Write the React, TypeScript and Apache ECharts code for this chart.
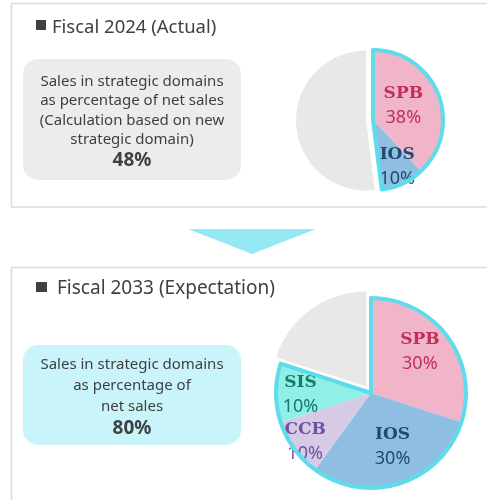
import React, { useEffect, useRef } from "react";
import * as echarts from "echarts";

// ---- data ----
const titles = ["Fiscal 2024 (Actual)", "Fiscal 2033 (Expectation)"];
const box1Lines = ["Sales in strategic domains", "as percentage of net sales", "(Calculation based on new", "strategic domain)"];
const box1Value = "48%";
const box2Lines = ["Sales in strategic domains", "as percentage of", "net sales"];
const box2Value = "80%";

const pie1Names = ["SPB", "IOS", "Other"];
const pie1Values = [38, 10, 52];
const pie2Names = ["SPB", "IOS", "CCB", "SIS", "Other"];
const pie2Values = [30, 30, 10, 10, 20];
const strategic1 = [48, 52];
const strategic2 = [80, 20];

const segColors: Record<string, string> = {
  SPB: "#f0b5c8",
  IOS: "#8ebfe3",
  CCB: "#d5cbe4",
  SIS: "#90efe7",
  Other: "#e8e8e8",
};
const labelColors: Record<string, string> = {
  SPB: "#c22f5c",
  IOS: "#1f4a6e",
  CCB: "#7150a6",
  SIS: "#167a6a",
};

const CYAN = "#5fdcea";
const SANS = "'Noto Sans', 'Open Sans', sans-serif";
const SERIF = "'DejaVu Serif', 'Liberation Serif', serif";

function pieData(names: string[], values: number[]) {
  return names.map((n, i) => {
    const isOther = n === "Other";
    return {
      name: n,
      value: values[i],
      selected: isOther,
      itemStyle: { color: segColors[n], borderWidth: 0 },
      label: isOther
        ? { show: false }
        : {
            show: true,
            rich: {
              n: { fontFamily: SERIF, fontWeight: "bold", fontSize: 17, color: labelColors[n], lineHeight: 24, align: "center" },
              p: { fontFamily: SANS, fontSize: 18, color: labelColors[n], lineHeight: 24, align: "center" },
            },
          },
    };
  });
}

function outlineData(values: number[]) {
  return values.map((v, i) => ({
    name: i === 0 ? "strategic" : "rest",
    value: v,
    itemStyle: i === 0
      ? { color: "none", borderColor: CYAN, borderWidth: 4, borderJoin: "round" }
      : { color: "none", borderWidth: 0 },
  }));
}

const pie1Shift: Record<number, [number, number]> = { 0: [-5, -2], 1: [8, 11] };
const pie2Shift: Record<number, [number, number]> = { 0: [8, -13], 1: [6, 4], 2: [-25, 17], 3: [-20, 0] };

export default function App() {
  const ref = useRef<HTMLDivElement>(null);
  useEffect(() => {
    if (!ref.current) return;
    const chart = echarts.init(ref.current, null, { renderer: "svg" });
    const textCol = "#404040";
    const boxText = (lines: string[], value: string, cx: number, yTop: number, lh: number) => [
      {
        type: "text",
        style: {
          text: lines.join("\n"),
          x: cx,
          y: yTop,
          textAlign: "center",
          textVerticalAlign: "top",
          lineHeight: lh,
          fill: textCol,
          font: `15px ${SANS}`,
        },
      },
      {
        type: "text",
        style: {
          text: value,
          x: cx,
          y: yTop + lines.length * lh + lh / 2 + 1,
          textAlign: "center",
          textVerticalAlign: "middle",
          fill: textCol,
          font: `bold 19px ${SANS}`,
        },
      },
    ];
    const option: any = {
      animation: false,
      graphic: [
        { type: "rect", shape: { x: 11.5, y: 3.5, width: 490, height: 203.5 }, style: { fill: "#fff", stroke: "#dcdcdc", lineWidth: 1.5 }, z: -10 },
        { type: "rect", shape: { x: 11.5, y: 267.5, width: 490, height: 260 }, style: { fill: "#fff", stroke: "#dcdcdc", lineWidth: 1.5 }, z: -10 },
        { type: "polygon", shape: { points: [[188, 229], [316, 229], [252, 254]] }, style: { fill: "#95e9f4" } },
        { type: "rect", shape: { x: 36, y: 20, width: 10, height: 10 }, style: { fill: textCol } },
        { type: "text", style: { text: titles[0], x: 52, y: 25, textVerticalAlign: "middle", fill: textCol, font: `18.5px ${SANS}` } },
        { type: "rect", shape: { x: 36, y: 282, width: 11, height: 10 }, style: { fill: textCol } },
        { type: "text", style: { text: titles[1], x: 57, y: 287, textVerticalAlign: "middle", fill: textCol, font: `19px ${SANS}` } },
        { type: "rect", shape: { x: 23, y: 59, width: 218, height: 121, r: 15 }, style: { fill: "#ececec" } },
        ...boxText(box1Lines, box1Value, 132, 69.7, 19.6),
        { type: "rect", shape: { x: 23, y: 345, width: 218, height: 100, r: 15 }, style: { fill: "#c9f4f9" } },
        ...boxText(box2Lines, box2Value, 132, 353, 20.8),
      ],
      series: [
        {
          type: "pie",
          center: [373, 120],
          radius: 70,
          startAngle: 90,
          clockwise: true,
          selectedMode: "multiple",
          selectedOffset: 7,
          avoidLabelOverlap: false,
          emphasis: { disabled: true },
          label: { position: "inside", formatter: "{n|{b}}\n{p|{c}%}" },
          labelLine: { show: false },
          labelLayout: (p: any) => {
            const s = pie1Shift[p.dataIndex] || [0, 0];
            return { dx: s[0], dy: s[1] };
          },
          data: pieData(pie1Names, pie1Values),
          z: 2,
        },
        {
          type: "pie",
          center: [373, 120],
          radius: 70,
          startAngle: 90,
          silent: true,
          label: { show: false },
          labelLine: { show: false },
          emphasis: { disabled: true },
          data: outlineData(strategic1),
          z: 3,
        },
        {
          type: "pie",
          center: [371, 393],
          radius: 95,
          startAngle: 90,
          clockwise: true,
          selectedMode: "multiple",
          selectedOffset: 8,
          avoidLabelOverlap: false,
          emphasis: { disabled: true },
          label: { position: "inside", formatter: "{n|{b}}\n{p|{c}%}" },
          labelLine: { show: false },
          labelLayout: (p: any) => {
            const s = pie2Shift[p.dataIndex] || [0, 0];
            return { dx: s[0], dy: s[1] };
          },
          data: pieData(pie2Names, pie2Values),
          z: 2,
        },
        {
          type: "pie",
          center: [371, 393],
          radius: 95,
          startAngle: 90,
          silent: true,
          label: { show: false },
          labelLine: { show: false },
          emphasis: { disabled: true },
          data: outlineData(strategic2),
          z: 3,
        },
      ],
    };
    chart.setOption(option);
    return () => chart.dispose();
  }, []);
  return <div ref={ref} style={{ position: "fixed", left: 0, top: 0, width: 487, height: 500 }} />;
}
